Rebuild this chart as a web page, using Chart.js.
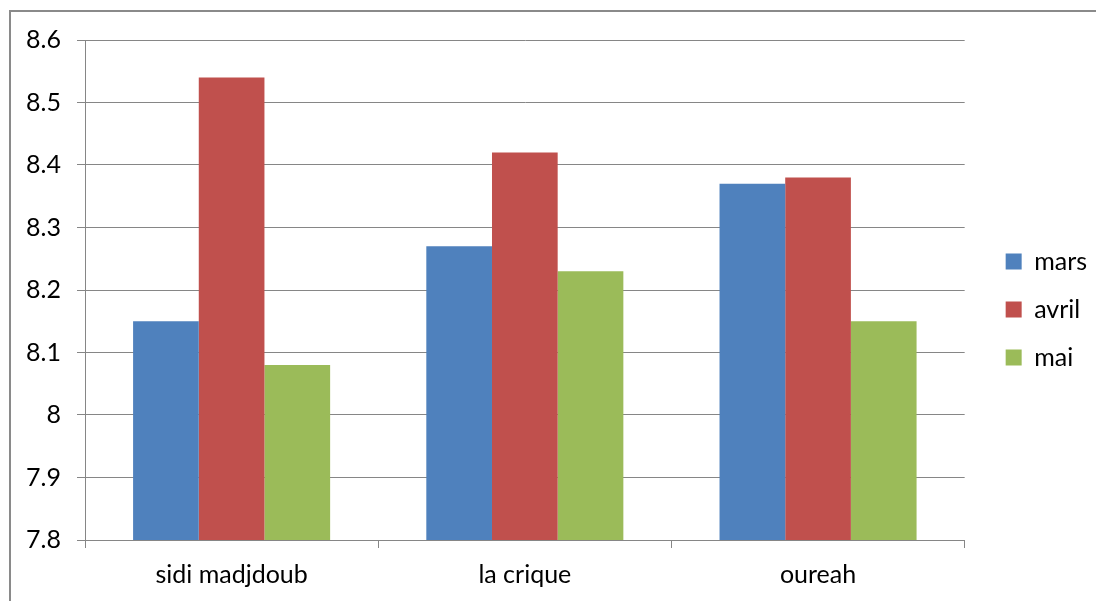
<!DOCTYPE html>
<html>
<head>
<meta charset="utf-8">
<script src="https://cdn.jsdelivr.net/npm/chart.js@4/dist/chart.umd.min.js"></script>
<style>
  html, body { margin: 0; padding: 0; background: #fff; }
  #wrap { position: relative; width: 1096px; height: 601px; overflow: hidden; }
  #frame { position: absolute; left: 9px; top: 10px; width: 1200px; height: 700px;
           border-top: 2px solid #8a8a8a; border-left: 2px solid #8a8a8a; box-sizing: border-box; }
  #graf { position: absolute; left: 0; top: 0; }
</style>
</head>
<body>
<div id="wrap">
  <div id="frame"></div>
  <canvas id="graf" width="1096" height="601"></canvas>
</div>
<script>
const categories = ['sidi madjdoub', 'la crique', 'oureah'];
const mars = [8.15, 8.27, 8.37];
const avril = [8.54, 8.42, 8.38];
const mai = [8.08, 8.23, 8.15];
const yMin = 7.8;
const yMax = 8.6;
const yStep = 0.1;

const grille = '#868686';
const police = { family: 'Lato, "Open Sans", sans-serif', size: 25 };

// pousse la légende là où elle est dans l'original
const decaleLegende = {
    id: 'decaleLegende',
    afterLayout(chart) {
        const l = chart.legend;
        l.left += 18; l.right += 18;
        l.top -= 11; l.bottom -= 11;
    }
};

window.onload = function () {
    const ctx = document.getElementById('graf').getContext('2d');
    new Chart(ctx, {
        type: 'bar',
        data: {
            labels: categories,
            datasets: [
                { label: 'mars', data: mars, backgroundColor: '#4F81BD' },
                { label: 'avril', data: avril, backgroundColor: '#C0504D' },
                { label: 'mai', data: mai, backgroundColor: '#9BBB59' }
            ]
        },
        options: {
            responsive: false,
            animation: false,
            layout: { padding: { left: 0, top: 40, right: 17, bottom: 0 } },
            datasets: {
                bar: { categoryPercentage: 0.672, barPercentage: 1.0, borderWidth: 0 }
            },
            plugins: {
                tooltip: { enabled: false },
                legend: {
                    position: 'right',
                    labels: {
                        boxWidth: 16,
                        boxHeight: 16,
                        padding: 23,
                        color: '#000',
                        font: police
                    }
                }
            },
            scales: {
                x: {
                    grid: { offset: true, drawOnChartArea: false, drawTicks: true, tickLength: 8, color: grille },
                    border: { color: grille, width: 1 },
                    ticks: { color: '#000', font: police, padding: 12, maxRotation: 0 },
                    afterFit(scale) { scale.height = 61; }
                },
                y: {
                    min: yMin,
                    max: yMax,
                    grid: { color: grille, tickLength: 8 },
                    border: { color: grille, width: 1 },
                    ticks: {
                        stepSize: yStep,
                        color: '#000',
                        font: police,
                        padding: 16,
                        callback: v => String(Number(v.toFixed(2)))
                    },
                    afterFit(scale) { scale.width = 85; }
                }
            }
        },
        plugins: [decaleLegende]
    });
};
</script>
</body>
</html>
